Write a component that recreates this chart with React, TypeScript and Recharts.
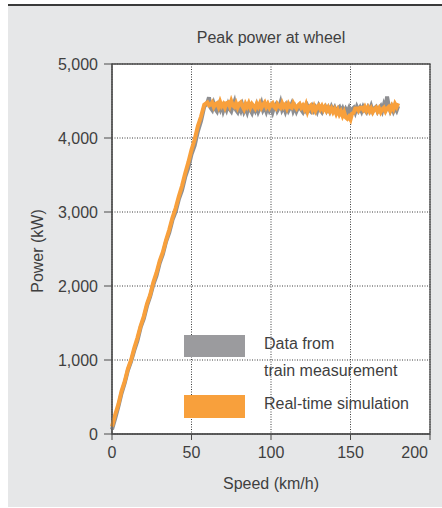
import React from 'react';
import { LineChart, Line, XAxis, YAxis, CartesianGrid, ReferenceArea, Label } from 'recharts';

const chartTitle = 'Peak power at wheel';
const xAxisTitle = 'Speed (km/h)';
const yAxisTitle = 'Power (kW)';

const xTicks = [0, 50, 100, 150, 200];
const yTicks = [0, 1000, 2000, 3000, 4000, 5000];

const seriesNames = ['Data from train measurement', 'Real-time simulation'];
const legendLines = [['Data from', 'train measurement'], ['Real-time simulation']];
const seriesColors = ['#8e8f92', '#f8a03c'];
const legendColors = ['#9b9b9e', '#f8a03c'];

const speedKmh = [
  0, 2, 4, 6, 8, 10, 12, 14, 16, 18, 20, 22, 24, 26, 28, 30, 32, 34, 36, 38, 40, 42, 44, 46, 48, 50, 52, 54, 56, 58,
  60, 61, 62, 63, 64, 65, 66, 67, 68, 69,
  70, 71, 72, 73, 74, 75, 76, 77, 78, 79,
  80, 81, 82, 83, 84, 85, 86, 87, 88, 89,
  90, 91, 92, 93, 94, 95, 96, 97, 98, 99,
  100, 101, 102, 103, 104, 105, 106, 107, 108, 109,
  110, 111, 112, 113, 114, 115, 116, 117, 118, 119,
  120, 121, 122, 123, 124, 125, 126, 127, 128, 129,
  130, 131, 132, 133, 134, 135, 136, 137, 138, 139,
  140, 141, 142, 143, 144, 145, 146, 147, 148, 149,
  150, 151, 152, 153, 154, 155, 156, 157, 158, 159,
  160, 161, 162, 163, 164, 165, 166, 167, 168, 169,
  170, 171, 172, 173, 174, 175, 176, 177, 178, 179,
  180,
];

const measuredPowerKw = [
  60, 210, 370, 550, 690, 860, 980, 1130, 1260, 1440, 1560, 1730, 1860, 2020, 2140, 2310, 2430, 2600, 2720, 2890, 3000, 3170, 3290, 3470, 3600, 3780, 3900, 4090, 4230, 4420,
  4480, 4550, 4410, 4380, 4460, 4390, 4360, 4440, 4390, 4470,
  4370, 4430, 4380, 4450, 4390, 4360, 4430, 4490, 4380, 4350,
  4420, 4370, 4440, 4360, 4410, 4350, 4430, 4380, 4340, 4410,
  4370, 4440, 4360, 4410, 4470, 4380, 4420, 4360, 4430, 4370,
  4410, 4350, 4420, 4450, 4370, 4410, 4480, 4380, 4420, 4360,
  4430, 4370, 4410, 4460, 4370, 4420, 4360, 4410, 4440, 4380,
  4350, 4410, 4370, 4430, 4380, 4360, 4420, 4370, 4410, 4360,
  4430, 4380, 4350, 4410, 4430, 4370, 4410, 4360, 4420, 4370,
  4410, 4350, 4400, 4420, 4360, 4400, 4340, 4390, 4350, 4400,
  4330, 4390, 4410, 4350, 4420, 4370, 4410, 4360, 4420, 4380,
  4350, 4410, 4370, 4430, 4360, 4400, 4420, 4360, 4400, 4430,
  4370, 4450, 4390, 4560, 4440, 4370, 4420, 4360, 4410, 4370,
  4430,
];

const simulatedPowerKw = [
  100, 260, 400, 580, 710, 880, 1000, 1160, 1300, 1460, 1590, 1760, 1880, 2050, 2180, 2340, 2460, 2620, 2760, 2920, 3050, 3210, 3350, 3520, 3670, 3840, 3980, 4160, 4290, 4450,
  4480, 4440, 4450, 4480, 4420, 4460, 4470, 4420, 4490, 4430,
  4460, 4410, 4470, 4480, 4430, 4500, 4440, 4420, 4470, 4410,
  4460, 4480, 4430, 4390, 4460, 4420, 4470, 4410, 4460, 4430,
  4400, 4460, 4420, 4470, 4410, 4450, 4480, 4420, 4460, 4410,
  4450, 4470, 4420, 4400, 4460, 4430, 4410, 4470, 4420, 4450,
  4400, 4460, 4420, 4410, 4470, 4430, 4400, 4440, 4460, 4410,
  4440, 4390, 4450, 4360, 4420, 4440, 4380, 4430, 4370, 4420,
  4440, 4390, 4430, 4380, 4420, 4370, 4410, 4360, 4400, 4350,
  4390, 4330, 4380, 4320, 4360, 4300, 4350, 4280, 4260, 4290,
  4250, 4330, 4340, 4400, 4400, 4370, 4410, 4410, 4380, 4420,
  4370, 4410, 4360, 4400, 4350, 4390, 4410, 4360, 4400, 4350,
  4390, 4410, 4360, 4400, 4420, 4370, 4430, 4390, 4460, 4420,
  4470,
];

const measuredData = speedKmh.map((s, i) => ({ speed: s, power: measuredPowerKw[i] }));
const simulatedData = speedKmh.map((s, i) => ({ speed: s, power: simulatedPowerKw[i] }));

const FONT = '"Liberation Sans", Arial, Helvetica, sans-serif';
const TEXT = '#3f3f3f';
const AXIS = '#4a4a4a';

const fmt = (v: number) => v.toLocaleString('en-US');

const XTick = (props: any) => {
  const { x, y, payload } = props;
  const isLast = payload.value === xTicks[xTicks.length - 1];
  return (
    <text
      x={isLast ? x - 2 : x}
      y={y}
      dy="0.71em"
      textAnchor={isLast ? 'end' : 'middle'}
      fill={TEXT}
      fontSize={16}
      fontFamily={FONT}
    >
      {payload.value}
    </text>
  );
};

const YTitle = (props: any) => {
  const vb = props.viewBox || { x: 0, y: 64, width: 112, height: 370 };
  const cx = 37;
  const cy = vb.y + vb.height / 2 + 2;
  return (
    <text
      x={cx}
      y={cy}
      transform={`rotate(-90 ${cx} ${cy})`}
      textAnchor="middle"
      dominantBaseline="central"
      fill={TEXT}
      fontSize={16}
      fontFamily={FONT}
    >
      {yAxisTitle}
    </text>
  );
};

export default function App() {
  return (
    <div style={{ position: 'absolute', left: 0, top: 0, width: 442, height: 508, overflow: 'hidden', background: '#fff' }}>
      <div style={{ position: 'absolute', left: 8, top: 6, width: 434, height: 501, background: '#e6e7e8' }} />
      <div style={{ position: 'absolute', left: 8, top: 4, width: 434, height: 2, background: '#3a3a3a' }} />
      <div style={{ position: 'absolute', left: 0, top: 0 }}>
        <LineChart width={442} height={508} margin={{ top: 64, right: 12, bottom: 0, left: 0 }}>
          <CartesianGrid
            stroke="#3c3c3c"
            strokeDasharray="1 1.5"
            fill="#ffffff"
            fillOpacity={1}
          />
          <XAxis
            type="number"
            dataKey="speed"
            domain={[0, 200]}
            ticks={xTicks}
            height={74}
            tickSize={6}
            tickMargin={7}
            stroke={AXIS}
            tickLine={{ stroke: AXIS }}
            tick={<XTick />}
            allowDuplicatedCategory={false}
          >
            <Label value={xAxisTitle} position="insideBottom" offset={19} fill={TEXT} fontSize={16} fontFamily={FONT} />
          </XAxis>
          <YAxis
            type="number"
            domain={[0, 5000]}
            ticks={yTicks}
            width={112}
            tickSize={8}
            tickMargin={6}
            tickFormatter={fmt}
            stroke={AXIS}
            tickLine={{ stroke: AXIS }}
            tick={{ fill: TEXT, fontSize: 16, fontFamily: FONT }}
          >
            <Label content={<YTitle />} />
          </YAxis>
          <ReferenceArea x1={0} x2={200} y1={0} y2={5000} fill="none" stroke={AXIS} strokeWidth={1.3} ifOverflow="visible" />
          <Line
            data={measuredData}
            dataKey="power"
            name={seriesNames[0]}
            type="linear"
            stroke={seriesColors[0]}
            strokeWidth={4}
            dot={false}
            activeDot={false}
            isAnimationActive={false}
          />
          <Line
            data={simulatedData}
            dataKey="power"
            name={seriesNames[1]}
            type="linear"
            stroke={seriesColors[1]}
            strokeWidth={4}
            dot={false}
            activeDot={false}
            isAnimationActive={false}
          />
        </LineChart>
      </div>
      <svg width={442} height={508} style={{ position: 'absolute', left: 0, top: 0, pointerEvents: 'none' }}>
        <text x={271} y={43} textAnchor="middle" fill={TEXT} fontSize={16} fontFamily={FONT}>
          {chartTitle}
        </text>
        <rect x={184} y={335} width={61} height={22} fill={legendColors[0]} />
        <text x={264} y={349} fill={TEXT} fontSize={16} fontFamily={FONT}>{legendLines[0][0]}</text>
        <text x={264} y={376} fill={TEXT} fontSize={16} fontFamily={FONT}>{legendLines[0][1]}</text>
        <rect x={184} y={395} width={61} height={23} fill={legendColors[1]} />
        <text x={264} y={409} fill={TEXT} fontSize={16} fontFamily={FONT}>{legendLines[1][0]}</text>
      </svg>
    </div>
  );
}
